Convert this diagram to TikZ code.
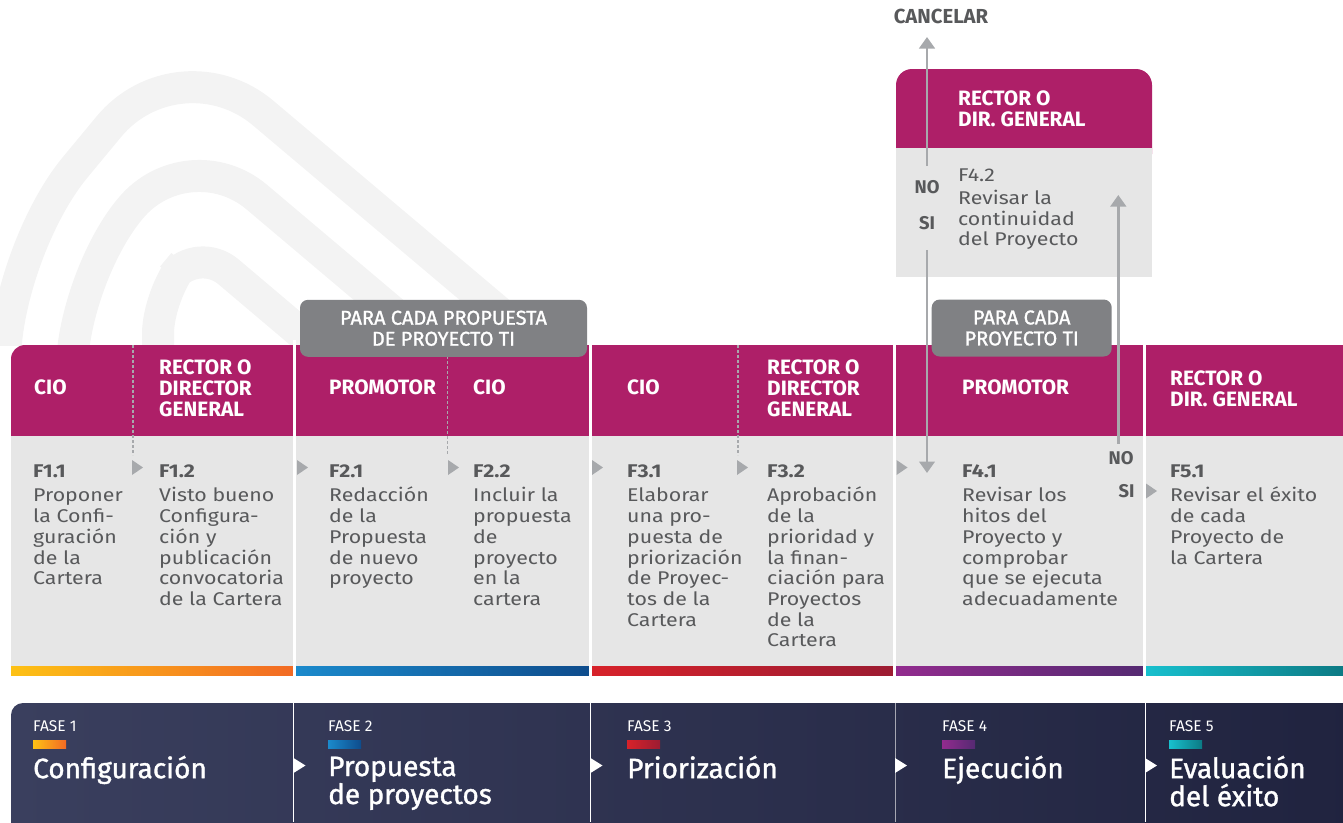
\documentclass[tikz,border=0pt]{standalone}
\usepackage{fontspec}
\setmainfont{Fira Sans}
\newfontfamily\anchofont[FakeStretch=1.16]{Fira Sans}
\newfontfamily\mediofont[FakeBold=1.2]{Fira Sans}
\usepackage{xcolor}
\usepackage{tikz}
\usetikzlibrary{arrows.meta}
\usetikzlibrary{positioning}
\definecolor{Magenta}{HTML}{AE1F68}
\definecolor{PanelGris}{HTML}{E6E6E6}
\definecolor{TextoGris}{HTML}{58595B}
\definecolor{FlechaGris}{HTML}{A7A9AC}
\definecolor{EtiquetaGris}{HTML}{808184}
\definecolor{Marca}{HTML}{F3F3F3}
\definecolor{FaseIzq}{HTML}{3A3F5E}
\definecolor{FaseDer}{HTML}{20233F}
\definecolor{UnoA}{HTML}{FDC115}
\definecolor{UnoB}{HTML}{F26A24}
\definecolor{DosA}{HTML}{1B8ACC}
\definecolor{DosB}{HTML}{0E4C8C}
\definecolor{TresA}{HTML}{D7222A}
\definecolor{TresB}{HTML}{9C1C32}
\definecolor{CuatroA}{HTML}{922B8E}
\definecolor{CuatroB}{HTML}{552A72}
\definecolor{CincoA}{HTML}{18C0CE}
\definecolor{CincoB}{HTML}{0C7A84}
\tikzset{
  Rol/.style={
    text=white, anchor=west, align=left, inner sep=0pt,
    font=\bfseries\fontsize{20.8}{21}\selectfont,
  },
  Paso/.style={
    text=TextoGris, anchor=north west, align=left, inner sep=0pt,
    font=\anchofont\fontsize{18.4}{20.7}\selectfont,
  },
  Decision/.style={
    text=TextoGris, inner sep=0pt,
    font=\bfseries\fontsize{18.4}{20}\selectfont,
  },
  Etiqueta/.style={
    rectangle, rounded corners=8pt, fill=EtiquetaGris,
    text=white, align=center, inner sep=0pt,
    font=\mediofont\fontsize{20}{21}\selectfont,
  },
  Flujo/.style={
    draw=FlechaGris, line width=2.7pt,
    -{Triangle[width=15.5pt,length=11.5pt]},
  },
  Divisor/.style={draw=FlechaGris, line width=1.2pt, dash pattern=on 3pt off 2pt},
  FaseNum/.style={text=white, anchor=base west, inner sep=0pt, font=\fontsize{15.5}{16}\selectfont},
  FaseTit/.style={text=white, anchor=north west, align=left, inner sep=0pt, font=\mediofont\fontsize{28}{28}\selectfont},
  marcaPaso/.pic={\fill[FlechaGris] (0,-7.5) -- (11,0) -- (0,7.5) -- cycle;},
  marcaFase/.pic={\fill[white] (0,-7.5) -- (12,0) -- (0,7.5) -- cycle;},
}

\begin{document}
\begin{tikzpicture}[x=1pt,y=-1pt]
\useasboundingbox (0,0) rectangle (1343,822);
\begin{scope}
\clip (0,0) rectangle (1343,345);
\draw[Marca, line width=32pt, rounded corners=110pt] (5,720) -- (5,252) -- (179,42) -- (603,400);
\draw[Marca, line width=32pt, rounded corners=90pt] (72,720) -- (72,279) -- (188,139) -- (497,400);
\draw[Marca, line width=32pt, rounded corners=40pt] (158,720) -- (158,294) -- (198,246) -- (380,400);
\end{scope}

\fill[Magenta, rounded corners=14pt] (11,345) rectangle (1360,470);
\fill[PanelGris] (11,435.5) rectangle (1360,666);
\shade[left color=UnoA, right color=UnoB] (11,666) rectangle (294,675.5);
\shade[left color=DosA, right color=DosB] (295,666) rectangle (590,675.5);
\shade[left color=TresA, right color=TresB] (591,666) rectangle (894,675.5);
\shade[left color=CuatroA, right color=CuatroB] (895,666) rectangle (1144,675.5);
\shade[left color=CincoA, right color=CincoB] (1145,666) rectangle (1343,675.5);
\draw[white, line width=2.5pt] (294.5,340) -- (294.5,676);
\draw[white, line width=2.5pt] (590.5,340) -- (590.5,676);
\draw[white, line width=2.5pt] (894.5,340) -- (894.5,676);
\draw[white, line width=2.5pt] (1144.5,340) -- (1144.5,676);
\shade[left color=FaseIzq, right color=FaseDer, rounded corners=12pt] (11,703) rectangle (1360,840);
\draw[white, line width=1pt] (293.5,703) -- (293.5,822);
\draw[white, line width=1pt] (590.5,703) -- (590.5,822);
\draw[white!60!FaseDer, line width=1pt] (895,703) -- (895,822);
\draw[white, line width=1pt] (1145,703) -- (1145,822);

\fill[Magenta, rounded corners=16pt] (896,69) rectangle (1152,170);
\fill[PanelGris] (896,148.3) rectangle (1152,277.3);

\draw[Divisor] (133,345) -- (133,455);
\draw[Divisor] (447.5,356) -- (447.5,455);
\draw[Divisor] (738,345) -- (738,455);

\node[Etiqueta, minimum width=287pt, minimum height=57pt] (paraPropuesta) at (443.5,328.3) {PARA CADA PROPUESTA\\DE PROYECTO TI};
\node[Etiqueta, minimum width=180pt, minimum height=57pt] (paraProyecto) at (1021.7,328) {PARA CADA\\PROYECTO TI};

\node[Rol] (cio1) at (34,387.5) {CIO};
\node[Rol] (rector1) at (159,388.5) {RECTOR O\\DIRECTOR\\GENERAL};
\node[Rol] (promotor2) at (329,387.5) {PROMOTOR};
\node[Rol] (cio2) at (473,387.5) {CIO};
\node[Rol] (cio3) at (627,387.5) {CIO};
\node[Rol] (rector3) at (767,388.5) {RECTOR O\\DIRECTOR\\GENERAL};
\node[Rol] (promotor4) at (962,387.5) {PROMOTOR};
\node[Rol] (rector5) at (1170,388.5) {RECTOR O\\DIR. GENERAL};
\node[Rol] (rector42) at (958,109) {RECTOR O\\DIR. GENERAL};

\node[Paso] (f11) at (33,465) {\textbf{F1.1}\\[3.3pt]Proponer\\la Confi-\\guración\\de la\\Cartera};
\node[Paso] (f12) at (159,465) {\textbf{F1.2}\\[3.3pt]Visto bueno\\Configura-\\ción y\\publicación\\convocatoria\\de la Cartera};
\node[Paso] (f21) at (329,465) {\textbf{F2.1}\\[3.3pt]Redacción\\de la\\Propuesta\\de nuevo\\proyecto};
\node[Paso] (f22) at (473,465) {\textbf{F2.2}\\[3.3pt]Incluir la\\propuesta\\de\\proyecto\\en la\\cartera};
\node[Paso] (f31) at (627,465) {\textbf{F3.1}\\[3.3pt]Elaborar\\una pro-\\puesta de\\priorización\\de Proyec-\\tos de la\\Cartera};
\node[Paso] (f32) at (767,465) {\textbf{F3.2}\\[3.3pt]Aprobación\\de la\\prioridad y\\la finan-\\ciación para\\Proyectos\\de la\\Cartera};
\node[Paso] (f41) at (962,465) {\textbf{F4.1}\\[3.3pt]Revisar los\\hitos del\\Proyecto y\\comprobar\\que se ejecuta\\adecuadamente};
\node[Paso] (f51) at (1170,465) {\textbf{F5.1}\\[3.3pt]Revisar el éxito\\de cada\\Proyecto de\\la Cartera};
\node[Paso] (f42) at (958,169) {F4.2\\[2pt]Revisar la\\continuidad\\del Proyecto};

\pic at (132,467.5) {marcaPaso};
\pic at (297,467.5) {marcaPaso};
\pic at (448,467.5) {marcaPaso};
\pic at (592,467.5) {marcaPaso};
\pic at (737,467.5) {marcaPaso};
\pic at (896.5,467.5) {marcaPaso};
\pic at (1146,491) {marcaPaso};

\node[Decision] (cancelar) at (941,16) {\fontsize{20.3}{21}\selectfont CANCELAR};
\node[Decision] (no42) at (927,187) {NO};
\node[Decision] (si42) at (927,223) {SI};
\node[Decision] (no41) at (1121,458.5) {NO};
\node[Decision] (si41) at (1126.5,491) {SI};
\coordinate (cancelarTip) at (927,37);
\coordinate (f41Tip) at (927,473);
\coordinate (f42Tip) at (1118.3,195);
\draw[Flujo, shorten <=14pt] (no42.north) -- (no42.north |- cancelarTip);
\draw[Flujo, shorten <=20pt] (si42.south) -- (si42.south |- f41Tip);
\draw[Flujo, shorten <=8pt] (f42Tip |- no41.north) -- (f42Tip);

\node[FaseNum] (fase1) at (33,731.7) {FASE 1};
\node[FaseNum] (fase2) at (328,731.7) {FASE 2};
\node[FaseNum] (fase3) at (627,731.7) {FASE 3};
\node[FaseNum] (fase4) at (942,731.7) {FASE 4};
\node[FaseNum] (fase5) at (1169,731.7) {FASE 5};
\shade[left color=UnoA, right color=UnoB] (33,740) rectangle (66,748);
\shade[left color=DosA, right color=DosB] (328,740) rectangle (361,748);
\shade[left color=TresA, right color=TresB] (627,740) rectangle (660,748);
\shade[left color=CuatroA, right color=CuatroB] (942,740) rectangle (975,748);
\shade[left color=CincoA, right color=CincoB] (1169,740) rectangle (1202,748);
\node[FaseTit] (configuracion) at (33,755.5) {Configuración};
\node[FaseTit] (propuesta) at (328,756.5) {Propuesta\\de proyectos};
\node[FaseTit] (priorizacion) at (627,755.5) {Priorización};
\node[FaseTit] (ejecucion) at (942,755.5) {Ejecución};
\node[FaseTit] (evaluacion) at (1169,755.5) {Evaluación\\del éxito};
\pic at (293.5,765.5) {marcaFase};
\pic at (590.5,765.5) {marcaFase};
\pic at (895,765.5) {marcaFase};
\pic at (1145,765.5) {marcaFase};
\end{tikzpicture}
\end{document}
